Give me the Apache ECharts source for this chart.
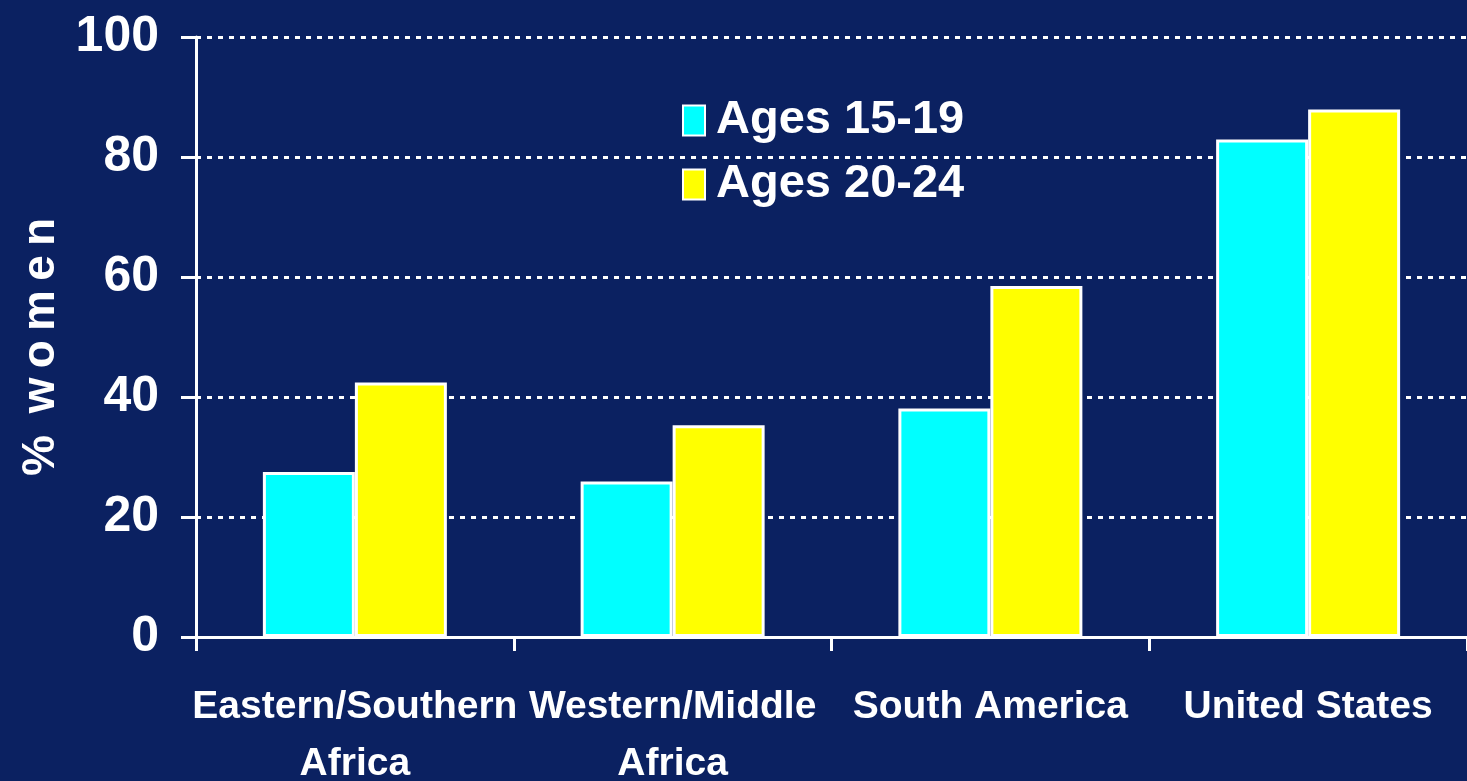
<!DOCTYPE html>
<html>
<head>
<meta charset="utf-8">
<script src="https://cdn.jsdelivr.net/npm/echarts@6/dist/echarts.min.js"></script>
<style>
  html, body { margin: 0; padding: 0; background: #0b2161; }
  #main { width: 1467px; height: 781px; }
</style>
</head>
<body>
<div id="main"></div>
<script>
// regions on the x axis
var regions = ['Eastern/Southern\nAfrica', 'Western/Middle\nAfrica', 'South America', 'United States'];
// % women, by age group
var ages1519 = [27.5, 25.9, 38.1, 82.9];
var ages2024 = [42.4, 35.3, 58.5, 87.9];
var yTicks = [0, 20, 40, 60, 80, 100];

var font = '"Liberation Sans", Arial, sans-serif';

var myChart = echarts.init(document.getElementById('main'));

var option = {
    backgroundColor: '#0b2161',
    animation: false,
    grid: { left: 196, right: 0, top: 37, bottom: 144, containLabel: false, outerBoundsMode: 'none' },
    legend: {
        orient: 'vertical',
        left: 677,
        top: 92,
        itemWidth: 22,
        itemHeight: 30,
        itemGap: 17,
        icon: 'rect',
        itemStyle: { borderColor: '#ffffff', borderWidth: 2 },
        textStyle: {
            color: '#ffffff',
            fontFamily: font,
            fontWeight: 'bold',
            fontSize: 47,
            padding: [0, 0, 0, 6]
        },
        data: ['Ages 15-19', 'Ages 20-24']
    },
    xAxis: {
        type: 'category',
        data: regions,
        axisLine: { lineStyle: { color: '#ffffff', width: 3 } },
        axisTick: { show: true, length: 14, lineStyle: { color: '#ffffff', width: 3 } },
        axisLabel: {
            color: '#ffffff',
            fontFamily: font,
            fontWeight: 'bold',
            fontSize: 39,
            lineHeight: 57,
            margin: 42,
            interval: 0
        }
    },
    yAxis: {
        type: 'value',
        min: yTicks[0],
        max: yTicks[yTicks.length - 1],
        interval: 20,
        name: '%\u2009 w\u2009o\u2009m\u2009e\u2009n',
        nameLocation: 'middle',
        nameRotate: 90,
        nameGap: 130,
        nameTextStyle: {
            color: '#ffffff',
            fontFamily: font,
            fontWeight: 'bold',
            fontSize: 46,
            padding: [0, 20, 0, 0]
        },
        axisLine: { show: true, lineStyle: { color: '#ffffff', width: 3 } },
        axisTick: { show: true, length: 15, lineStyle: { color: '#ffffff', width: 3 } },
        axisLabel: {
            color: '#ffffff',
            fontFamily: font,
            fontWeight: 'bold',
            fontSize: 50,
            margin: 37
        },
        splitLine: { show: true, lineStyle: { color: '#ffffff', width: 3, type: [5, 6] } }
    },
    series: [
        {
            name: 'Ages 15-19',
            type: 'bar',
            data: ages1519,
            barWidth: 92,
            barGap: '0%',
            itemStyle: { color: '#00ffff', borderColor: '#ffffff', borderWidth: 3 }
        },
        {
            name: 'Ages 20-24',
            type: 'bar',
            data: ages2024,
            barWidth: 92,
            barGap: '0%',
            itemStyle: { color: '#ffff00', borderColor: '#ffffff', borderWidth: 3 }
        }
    ]
};

myChart.setOption(option);
</script>
</body>
</html>
